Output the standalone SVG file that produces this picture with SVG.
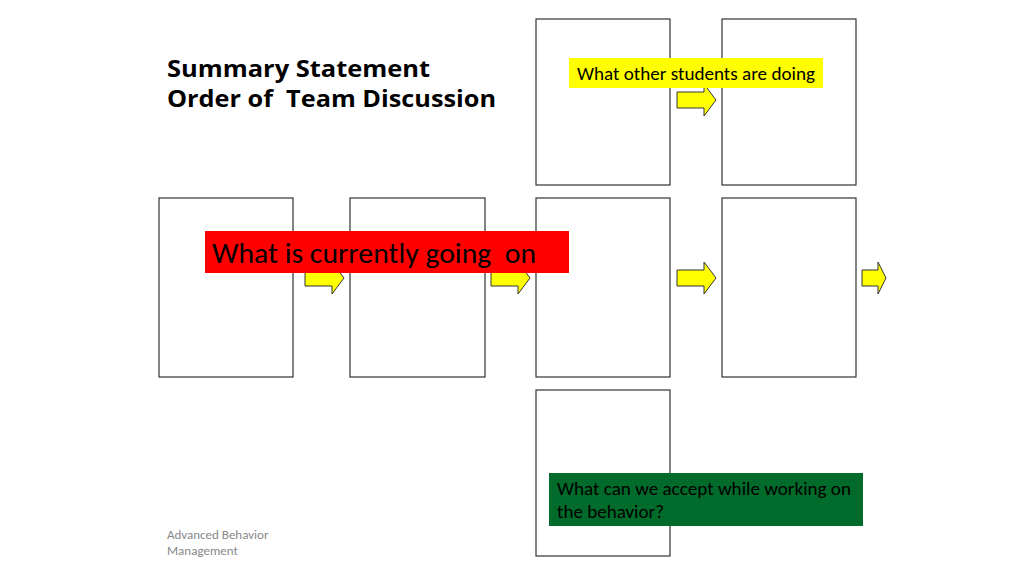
<svg xmlns="http://www.w3.org/2000/svg" width="1024" height="575" viewBox="0 0 1024 575">
<style>
.box{fill:#fff;stroke:#333;stroke-width:1.2}
.arr{fill:#ff0;stroke:#333;stroke-width:1}
.t{font-family:Carlito,Calibri,"Liberation Sans",sans-serif;fill:#000}
.h{font-family:"Open Sans","Noto Sans",sans-serif;font-weight:bold;font-size:24px;fill:#000}
</style>
<defs><polygon id="a" class="arr" points="0,8 27,8 27,0 39,16 27,32 27,24 0,24"/></defs>
<rect width="1024" height="575" fill="#fff"/>
<g id="title"><text class="h" x="167" y="77" textLength="263" lengthAdjust="spacingAndGlyphs">Summary Statement</text><text class="h" x="167" y="107" textLength="329" lengthAdjust="spacingAndGlyphs" xml:space="preserve">Order of  Team Discussion</text></g>
<g id="b1"><rect class="box" x="159" y="198" width="134" height="179"/></g>
<g id="b2"><rect class="box" x="350" y="198" width="135" height="179"/></g>
<g id="b3"><rect class="box" x="536" y="198" width="134" height="179"/></g>
<g id="b4"><rect class="box" x="722" y="198" width="134" height="179"/></g>
<g id="b5"><rect class="box" x="536" y="19" width="134" height="166"/></g>
<g id="b6"><rect class="box" x="722" y="19" width="134" height="166"/></g>
<g id="b7"><rect class="box" x="536" y="390" width="134" height="166"/></g>
<g id="connectors">
<use href="#a" x="305" y="262"/>
<use href="#a" x="491" y="262"/>
<use href="#a" x="677" y="262"/>
<use href="#a" x="677" y="84"/>
<polygon class="arr" points="862,270 878,270 878,262 886,278 878,294 878,286 862,286"/>
</g>
<g id="lbl-red"><rect x="205" y="231" width="364" height="42" fill="#f00"/><text class="t" x="212" y="263" font-size="28" textLength="324" lengthAdjust="spacingAndGlyphs" xml:space="preserve">What is currently going  on</text></g>
<g id="lbl-yellow"><rect x="569" y="58" width="254" height="30" fill="#ff0"/><text class="t" x="577" y="80" font-size="18" textLength="238" lengthAdjust="spacingAndGlyphs">What other students are doing</text></g>
<g id="lbl-green"><rect x="549" y="473" width="314" height="53" fill="#006b2a"/><text class="t" x="557" y="495" font-size="18" textLength="294" lengthAdjust="spacingAndGlyphs">What can we accept while working on</text><text class="t" x="557" y="518" font-size="18" textLength="107" lengthAdjust="spacingAndGlyphs">the behavior?</text></g>
<g id="footer"><text x="167" y="539" font-family="Carlito,'Liberation Sans',sans-serif" font-size="13" fill="#888">Advanced Behavior</text><text x="167" y="555" font-family="Carlito,'Liberation Sans',sans-serif" font-size="13" fill="#888">Management</text></g>
</svg>
